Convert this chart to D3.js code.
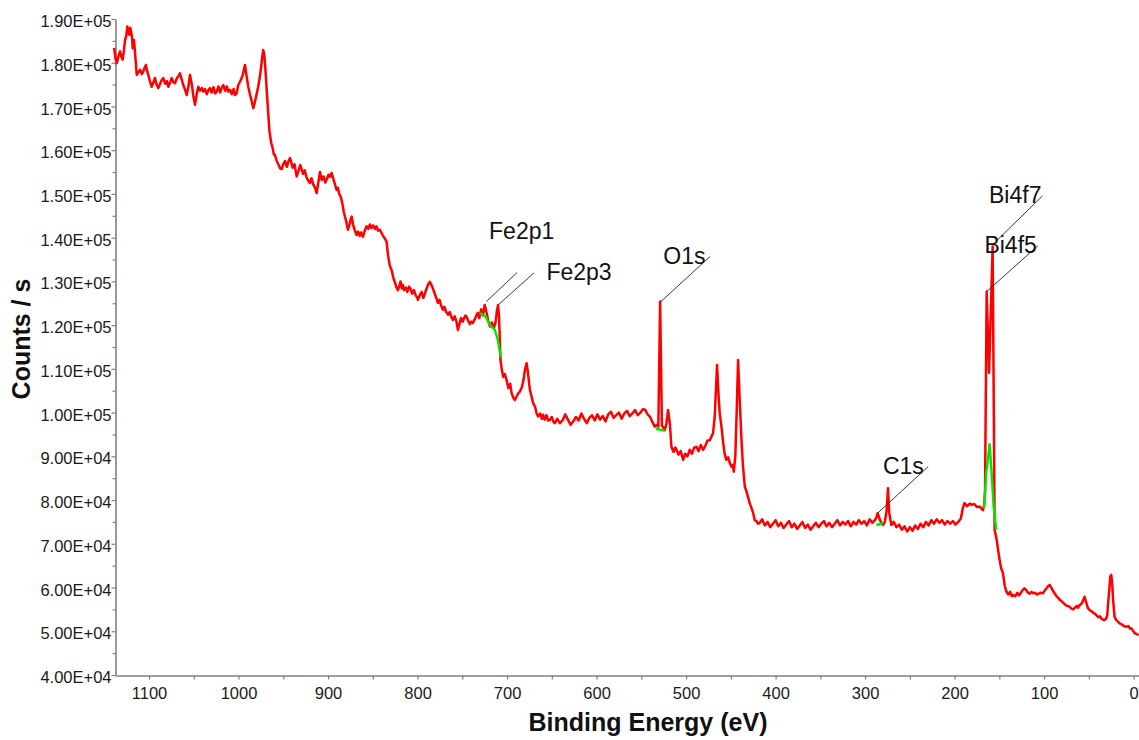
<!DOCTYPE html>
<html>
<head>
<meta charset="utf-8">
<script src="https://cdn.jsdelivr.net/npm/d3@7"></script>
<style>
  html, body { margin: 0; padding: 0; background: #fff; }
  svg { display: block; font-family: "Liberation Sans", Arial, Helvetica, sans-serif; }
</style>
</head>
<body>
<svg id="chart" width="1139" height="740"></svg>
<script>
// XPS survey spectrum: [binding energy (eV), intensity (counts/s)]
const spectrum = [
  [1139,183400],[1137.5,181000],[1136,179900],[1134,181600],[1132.4,182600],[1131,181500],[1129.4,180700],[1128,182800],
  [1126.8,185200],[1125.5,186000],[1124.2,188300],[1123,186900],[1122,186400],[1121,188000],[1120.4,187500],[1119,186000],
  [1118.2,183300],[1117.5,184400],[1116.8,185200],[1115.5,182000],[1113.7,177200],[1112,177800],[1110,178400],[1108,177400],
  [1106.4,178000],[1105,178800],[1103.4,179500],[1102,178000],[1100.8,177200],[1099,175800],[1097,174500],[1095,175600],
  [1093.3,176500],[1091.5,175000],[1089.6,174200],[1088,175000],[1086,176000],[1084,176500],[1082,175200],[1080,175800],
  [1078.4,174500],[1076.5,175400],[1074.7,176500],[1073,175600],[1071,175300],[1069,176400],[1067,177000],[1065.4,177600],
  [1063.5,176200],[1061.7,174900],[1060,174000],[1057.9,172600],[1056,174500],[1054.2,177200],[1052,174800],[1050.5,172400],
  [1048.6,170400],[1046.8,172800],[1044.9,174500],[1043,173600],[1041,174200],[1039.4,173400],[1037.5,174000],[1035.5,172800],
  [1033.5,173800],[1031.9,174200],[1030,173200],[1028,174400],[1026,173000],[1024.4,173400],[1022.5,174600],[1020.5,173200],
  [1019,174200],[1017,174900],[1015,173600],[1013,174600],[1011.5,173400],[1009.5,173800],[1007.5,172800],[1005.5,174000],
  [1004,172600],[1002.1,173000],[1000.5,174800],[998.5,175600],[996.5,176500],[995,177400],[993.8,178600],[992.8,179500],
  [991,177000],[989.1,174500],[987.5,173000],[985.5,171400],[983.5,169600],[982,170800],[980,172600],[978,174500],
  [976.5,176400],[975,178600],[973.5,181400],[972.4,182900],[971.3,182000],[970,178600],[968.6,174000],[967,169000],
  [965.5,164400],[963.5,161700],[962,160600],[960.5,159000],[959.3,158900],
  [957.5,157600],[955.5,156800],[953.5,155800],[951.8,155700],[950,156800],[948,157500],[946,156200],[944,157600],
  [942.5,158200],[941,157200],[939.5,156000],[937.5,156800],[935,154000],[933,155200],[931,156600],[929.5,155700],
  [928,154600],[926,155400],[924,153800],[922,153000],[920.2,152500],[918.5,153600],[916.5,152200],[914.5,151400],
  [912.7,150200],[911,152400],[909,155000],[907,153200],[905,154000],[903,152600],[901,153600],[899.5,154400],
  [897.9,153900],[896,154800],[894,153400],[892,152000],[890.4,150900],[889,151400],[887.5,150000],[885.9,149400],
  [884,147800],[882.5,146000],[881.1,144800],[879.5,143600],[877.8,141800],[876,143000],[874.5,144400],[873.6,144800],
  [872,143000],[870,141600],[868.1,140600],[866.5,141400],[864.5,140400],[863,141200],[861,140200],[859,141600],
  [857,142600],[855,142000],[853.2,143000],[851.5,142200],[849.5,142800],[847.5,142000],[846,142600],[844,141600],
  [842,141800],[840,141000],[838,140200],[836.5,139800],[834.6,139100],[833,136000],[831,133600],[829,132600],
  [827,130800],[825,129600],[823.5,128600],[822,128000],[820.5,128800],[819,130000],[817.5,128400],[816.4,129200],
  [815,128000],[813,128600],[811.5,127600],[809.5,128800],[808,128400],[806,127200],[804,128000],[802,126800],
  [800.5,126400],[799.6,125800],[797.5,126800],[795.5,127600],[793.5,126200],[791.5,127400],[789.5,128600],[788,129400],
  [786.2,129900],[784.5,129200],[782.5,128200],[780.5,127000],[779,126200],[777.3,125100],[775.5,125800],[773.5,124400],
  [771.7,123500],[770,124200],[768,123000],[766,122400],[764,123000],[762.5,122000],[760.5,121200],[758.5,122000],
  [756.5,120800],[754.9,118900],[753,120400],[751.5,121600],[749.5,120800],[748,121600],[746.5,122200],[745.2,121900],
  [743.5,121000],[741.5,120200],[740,120800],[738.2,120500],[736.5,121200],[735,121800],[733.5,122600],[732.6,122800],
  [731,121600],[729,123600],[727,122200],[725,124600],[723,123000],[721,121000],[719.2,119700],[717,120600],
  [714.7,119400],[713,120500],[711.2,123400],[710,124600],[709,122000],[707.3,112000],[706,110000],[704.4,108200],
  [702.5,108800],[700.6,107500],[698.5,105600],[696.5,106600],[695,104500],[693,103400],[691.3,102900],[689,103800],
  [687.5,104400],[685.7,104800],[683.5,105800],[681.5,107600],[680,109800],[678.2,111300],[676.8,109400],[674.5,105200],
  [672.5,103600],[670.9,102200],[668.5,101200],[667,99800],[665.3,99100],
  [663,99800],[661,98600],[659.7,99500],[658,98400],[656,99400],[654,98200],[652.2,98300],[650,99000],
  [648,97800],[646.6,97600],[644,98600],[641,97600],[638,98200],[635,99600],[632,98400],[629,97200],
  [626,98000],[623,99000],[620,98200],[617,99800],[614,98600],[611,97600],[608,98800],[605,99400],
  [602,98200],[599,99600],[596,98400],[593,99200],[590,98000],[587,99600],[584,100200],[581,98800],
  [578,99400],[575,100000],[572,98600],[569,99800],[566,100400],[563,99200],[560,99800],[557,100600],
  [554,99400],[551,100000],[548,100800],[545.5,100600],[543,99600],[540.5,99100],[538,98000],[535,96800],
  [533,97200],[531,96800],[529,125400],[527,97000],[526,96800],[523.8,96000],[522,97400],[520.1,100600],
  [518,97200],[516.4,92200],[514,91000],[512,92000],[510.7,91500],[508.5,90400],[506,91200],[503.3,89200],
  [501,90600],[498.5,90000],[495.9,91500],[493.5,90600],[491,92000],[488.4,92200],[486,91200],[483.5,92600],
  [481,91500],[478.5,92400],[476,93600],[473.5,93700],[471.5,94600],[469.9,95300],[468,99000],[466.8,104500],
  [465.4,110900],[464,105000],[462.5,100000],[460.5,96800],[458.5,93000],[457,90600],[455,89200],[453,89800],
  [451,88400],[449.3,87600],[447.8,88000],[446.7,86500],[445,90000],[443.5,100000],[441.9,112000],[440.3,104000],
  [438.1,93700],[436.5,88000],[434.4,83100],[432.5,82000],[430.7,80600],[428.9,79300],[427,78200],[425,77000],
  [423.3,75400],[421.5,75200],[419.5,74600],[417.7,74800],
  [415,75600],[412,74200],[409,75000],[406,73800],[403,74600],[400,75400],[397,74000],[394,74800],
  [391,73600],[388,74400],[385,75200],[382,73800],[379,74600],[376,73400],[373,74200],[370,75000],
  [367,73600],[364,74400],[361,73200],[358,74000],[355,74800],[352,73800],[349,74600],[346,75200],
  [343,74000],[340,74800],[337,73800],[334,74600],[331,75400],[328,74200],[325,75000],[322,74400],
  [319,75200],[316,74000],[313,75000],[310,74400],[307,75400],[304,74600],[301,75200],[298,74200],
  [295,75600],[292,74800],[289,75400],[287.5,76000],[286,77000],[284,75800],[282,74800],[280,74300],
  [278,75000],[276,77500],[274.4,82700],[273,77000],[270.6,74300],[268,75000],[265,73800],[262,74400],
  [259,73200],[256,74000],[253,72800],[250,73800],[247,73000],[244,74200],[241,73400],[238,74600],
  [235,73800],[232,75000],[229,74200],[226,75400],[223,74600],[220,75600],[217,74800],[214,75400],
  [211,74400],[208,75200],[205,74600],[202,75200],[199,74400],[196,75000],[193,75800],[191,78000],
  [189,79300],[186,78600],[183,79200],[181.3,78900],[178,79100],[175,78400],[172,78500],[170,78000],
  [168.3,77700],[167,79000],[166,82000],[164.2,127700],[161.5,109100],[157.5,138000],[155.3,73200],[153,70900],
  [151,68000],[149.7,66300],[148,64400],[146,63300],[144,60400],[142.2,59100],[140,58400],[138,59000],
  [136,58000],[134.8,58300],[132,58000],[130,58800],[128,58200],[126,58800],[124,59400],[122,59800],
  [119.9,59400],[118,58800],[116,58600],[114,59000],[112.5,58700],[110,58800],[108,58400],[106,58600],
  [104,58800],[101.3,58700],[99,59400],[97,59900],[95.5,60300],[93.8,60600],[92,60000],[90,59200],
  [88.3,58700],[86,58000],[84,57600],[82.7,57200],[80,56800],[78,56400],[76,56000],[74,55800],
  [71.5,55600],[69.5,55200],[67.5,55000],[65.5,55400],[63.5,55800],[62,55400],[60.4,56000],[58.5,56200],
  [56.5,57000],[54.8,57900],[53,56600],[51.1,55300],[49,54800],[47,54600],[45,54200],[43,54000],
  [41.7,53700],[39.5,53200],[37.5,53400],[35.5,52800],[33.5,52600],[32.5,52600],[31,52800],[29.5,53600],
  [28.8,55600],[27.2,59600],[26,62600],[25,62900],[24,61000],[23,57400],[21.3,53300],[19.5,52600],
  [17.5,52200],[15.7,51800],[13.5,51600],[11,51200],[8.2,51000],[6,51200],[4,50600],[2.7,50700],
  [1,50200],[-1,49600],[-3,49400],[-5.5,49100]
];

// Fitted backgrounds under the quantified peaks
const bgFe2p = [[730.4,122800],[723.7,121900],[719.2,120000],[713.6,118900],[710.3,116600],[707,112700]];
const bgO1s  = [[533.8,96300],[523.8,95900]];
const bgC1s  = [[287.4,74300],[280,74700]];
const bgBi4f = [[167.1,78100],[164.7,86100],[160.9,92800],[159.1,87600],[156.4,78500],[153.4,73200]];
const backgrounds = [bgFe2p, bgO1s, bgC1s, bgBi4f];

// Peak annotations
const peakNames   = ["Fe2p1", "Fe2p3", "O1s", "C1s", "Bi4f7", "Bi4f5"];
const peakEnergy  = [723, 709, 528, 286, 154, 164];
const peakCounts  = [125400, 124800, 125400, 77000, 139100, 127700];

// Axis ticks
const xTicks = [1100, 1000, 900, 800, 700, 600, 500, 400, 300, 200, 100, 0];
const xMinorTicks = [1050, 950, 850, 750, 650, 550, 450, 350, 250, 150, 50];
const yTicks = [40000, 50000, 60000, 70000, 80000, 90000, 100000, 110000, 120000, 130000, 140000, 150000, 160000, 170000, 180000, 190000];
const yMinorTicks = [45000, 55000, 65000, 75000, 85000, 95000, 105000, 115000, 125000, 135000, 145000, 155000, 165000, 175000, 185000];

// Leader-line and label offsets (px) relative to each annotated peak
const labelLayout = [
  { lx: 30.6, ly: -29.0, tx: 2.6,  ty: -62.2, anchor: "start" },
  { lx: 35.0, ly: -31.3, tx: 47.4, ty: -24.0, anchor: "start" },
  { lx: 49.0, ly: -45.0, tx: 2.3,  ty: -37.6, anchor: "start" },
  { lx: 50.6, ly: -46.6, tx: 5.3,  ty: -39.3, anchor: "start" },
  { lx: 46.7, ly: -45.7, tx: 45.7, ty: -38.7, anchor: "end" },
  { lx: 51.0, ly: -45.7, tx: 50.0, ty: -38.7, anchor: "end" }
];

const svg = d3.select("#chart");
const plotLeft = 115, plotRight = 1139, plotTop = 19, plotBottom = 675;

const x = d3.scaleLinear().domain([1138, -6]).range([plotLeft, plotRight]);
const y = d3.scaleLinear().domain([40000, 190000]).range([plotBottom, plotTop]);

const sci = d => {
  const [m, e] = d.toExponential(2).split("e");
  const sign = e[0] === "-" ? "-" : "+";
  const digits = e.replace(/^[+-]/, "").padStart(2, "0");
  return m + "E" + sign + digits;
};

const axisColor = "#808080";

// Y axis
const yAxis = svg.append("g").attr("transform", `translate(${plotLeft + 0.5},0)`)
  .call(d3.axisLeft(y).tickValues(yTicks).tickFormat(sci).tickSize(4).tickSizeOuter(0).tickPadding(0));
svg.append("g").attr("transform", `translate(${plotLeft + 0.5},0)`)
  .call(d3.axisLeft(y).tickValues(yMinorTicks).tickFormat("").tickSize(3).tickSizeOuter(0))
  .call(g => g.select(".domain").remove());

// X axis
svg.append("g").attr("transform", `translate(0,${plotBottom + 0.5})`)
  .call(d3.axisBottom(x).tickValues(xTicks).tickFormat(d3.format("d")).tickSize(4).tickSizeOuter(0).tickPadding(8));
svg.append("g").attr("transform", `translate(0,${plotBottom + 0.5})`)
  .call(d3.axisBottom(x).tickValues(xMinorTicks).tickFormat("").tickSize(4).tickSizeOuter(0))
  .call(g => g.select(".domain").remove());

svg.selectAll(".domain").attr("stroke", axisColor).attr("stroke-width", 1.6);
svg.selectAll(".tick line").attr("stroke", axisColor).attr("stroke-width", 1.2);
svg.selectAll(".tick text").attr("fill", "#1a1a1a").style("font-size", "16.5px")
  .style("font-family", '"Liberation Sans", Arial, sans-serif');
yAxis.selectAll(".tick text").attr("dy", "0.46em");

// Axis titles
svg.append("text")
  .attr("x", 648).attr("y", 731)
  .attr("text-anchor", "middle")
  .style("font-size", "25px").style("font-weight", "bold").attr("fill", "#111")
  .text("Binding Energy (eV)");
svg.append("text")
  .attr("transform", "translate(30,339) rotate(-90)")
  .attr("text-anchor", "middle")
  .style("font-size", "25px").style("font-weight", "bold").attr("fill", "#111")
  .text("Counts / s");

// Spectrum trace
const line = d3.line().x(d => x(d[0])).y(d => y(d[1]));
svg.append("path")
  .datum(spectrum)
  .attr("d", line)
  .attr("fill", "none")
  .attr("stroke", "#ff0000")
  .attr("stroke-width", 2.5)
  .attr("stroke-linejoin", "round");

// Backgrounds
svg.selectAll(".bg").data(backgrounds).join("path")
  .attr("class", "bg")
  .attr("d", line)
  .attr("fill", "none")
  .attr("stroke", "#00e600")
  .attr("stroke-width", 2.4)
  .attr("stroke-linejoin", "round");

// Peak labels with leader lines
const ann = svg.append("g");
peakNames.forEach((name, i) => {
  const px = x(peakEnergy[i]), py = y(peakCounts[i]);
  const L = labelLayout[i];
  ann.append("line")
    .attr("x1", px).attr("y1", py)
    .attr("x2", px + L.lx).attr("y2", py + L.ly)
    .attr("stroke", "#222").attr("stroke-width", 0.9);
  ann.append("text")
    .attr("x", px + L.tx).attr("y", py + L.ty)
    .attr("text-anchor", L.anchor)
    .style("font-size", "23px").attr("fill", "#111")
    .text(name);
});
</script>
</body>
</html>
